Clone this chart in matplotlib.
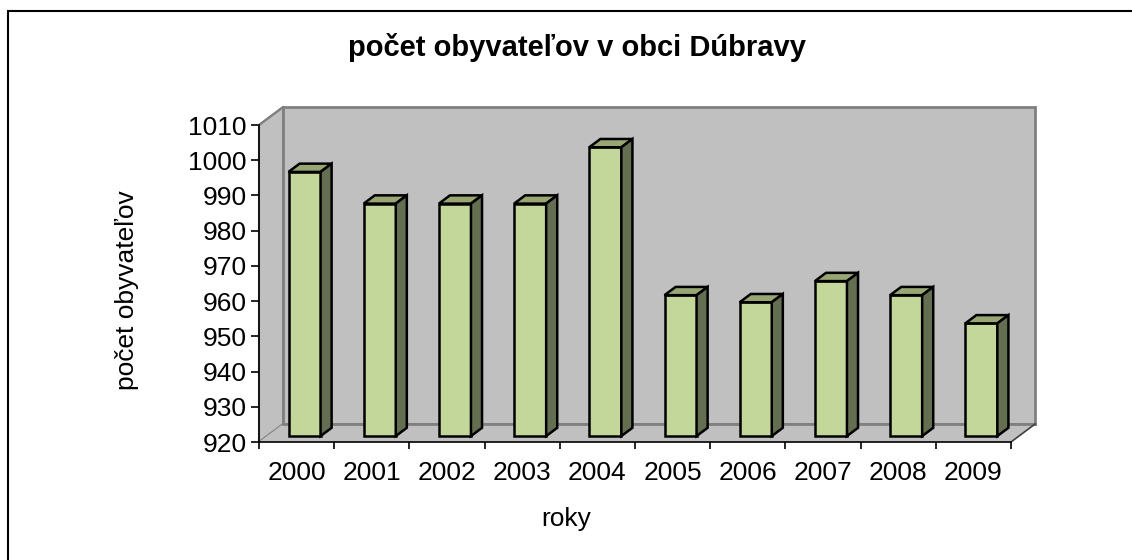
import matplotlib
matplotlib.use('Agg')
import matplotlib.pyplot as plt
from matplotlib.patches import Polygon, Rectangle

plt.rcParams['font.family'] = ['Liberation Sans', 'DejaVu Sans']

# data
roky = ['2000', '2001', '2002', '2003', '2004', '2005', '2006', '2007', '2008', '2009']
obyvatelia = [995, 986, 986, 986, 1002, 960, 958, 964, 960, 952]
y_ticks = [920, 930, 940, 950, 960, 970, 980, 990, 1000, 1010]

# 3D look (depth of the box in data units)
DX = 0.32
DY = 5.1
F0 = 0.33    # front of bars in depth
DD = 0.46    # bar depth
SIRKA = 0.426
YMIN, YMAX = 920, 1010

fig = plt.figure(figsize=(11.32, 5.6), dpi=100)
ax = fig.add_axes([259 / 1132, 1 - 442 / 560, 752 / 1132, 317 / 560])
ax.set_xlim(-0.5, len(roky) - 0.5)
ax.set_ylim(YMIN, YMAX)
ax.patch.set_visible(False)

x0, x1 = -0.5, len(roky) - 0.5
stena = '#C0C0C0'
hrana = '#808080'

# back wall
ax.add_patch(Polygon([(x0 + DX, YMIN + DY), (x1 + DX, YMIN + DY), (x1 + DX, YMAX + DY), (x0 + DX, YMAX + DY)],
                     closed=True, facecolor=stena, edgecolor=hrana, lw=2, clip_on=False, zorder=1))
# left wall
ax.add_patch(Polygon([(x0, YMIN), (x0, YMAX), (x0 + DX, YMAX + DY), (x0 + DX, YMIN + DY)],
                     closed=True, facecolor=stena, edgecolor=hrana, lw=1.5, clip_on=False, zorder=1))
# floor
ax.add_patch(Polygon([(x0, YMIN), (x1, YMIN), (x1 + DX, YMIN + DY), (x0 + DX, YMIN + DY)],
                     closed=True, facecolor=stena, edgecolor='none', clip_on=False, zorder=1))
ax.plot([x0 + DX, x1 + DX], [YMIN + DY, YMIN + DY], color=hrana, lw=2, clip_on=False, zorder=2)
ax.plot([x1, x1 + DX], [YMIN, YMIN + DY], color='#404040', lw=1.2, clip_on=False, zorder=2)
ax.plot([x0, x0 + DX], [YMAX, YMAX + DY], color=hrana, lw=1.5, clip_on=False, zorder=2)

# bars
pozicie = [i + F0 * DX for i in range(len(roky))]
vysky = [v - YMIN for v in obyvatelia]
stlpce = ax.bar(pozicie, vysky, bottom=YMIN + F0 * DY, width=SIRKA, color='#C4D79B',
                edgecolor='black', lw=1.8, zorder=5, clip_on=False)
for b in stlpce:
    xl = b.get_x()
    xr = xl + b.get_width()
    yb = b.get_y()
    yt = yb + b.get_height()
    ax.add_patch(Polygon([(xl, yt), (xr, yt), (xr + DD * DX, yt + DD * DY), (xl + DD * DX, yt + DD * DY)],
                         closed=True, facecolor='#98A673', edgecolor='black', lw=1.8, zorder=5,
                         clip_on=False, joinstyle='miter'))
    ax.add_patch(Polygon([(xr, yb), (xr, yt), (xr + DD * DX, yt + DD * DY), (xr + DD * DX, yb + DD * DY)],
                         closed=True, facecolor='#646E50', edgecolor='black', lw=1.8, zorder=5,
                         clip_on=False, joinstyle='miter'))

# axes
for s in ['top', 'right']:
    ax.spines[s].set_visible(False)
ax.spines['left'].set_color('black')
ax.spines['bottom'].set_color('black')
ax.spines['left'].set_linewidth(1.2)
ax.spines['bottom'].set_linewidth(1.2)
ax.spines['left'].set_zorder(3)
ax.spines['bottom'].set_zorder(3)

ax.set_yticks(y_ticks)
ax.set_yticklabels([str(t) for t in y_ticks])
ax.tick_params(axis='y', direction='out', length=6, width=1.2, pad=3, labelsize=19, colors='black')

ax.set_xticks([i - 0.5 for i in range(len(roky) + 1)])
ax.set_xticklabels([])
ax.set_xticks(range(len(roky)), minor=True)
ax.set_xticklabels(roky, minor=True)
ax.tick_params(axis='x', which='major', direction='out', length=5, width=1.2)
ax.tick_params(axis='x', which='minor', length=0, pad=14, labelsize=19)

fig.text(577 / 1132, 1 - 47 / 560, 'počet obyvateľov v obci Dúbravy', ha='center', va='center',
         fontsize=21, fontweight='bold')
fig.text(127 / 1132, 1 - 290 / 560, 'počet obyvateľov', ha='center', va='center', rotation=90,
         fontsize=19)
fig.text(566 / 1132, 1 - 519 / 560, 'roky', ha='center', va='center', fontsize=19)

# outer border
fig.add_artist(Rectangle((8 / 1132, -0.1), 1.2, 1.1 - 11 / 560, transform=fig.transFigure,
                         fill=False, edgecolor='black', lw=1.5))

fig.savefig('out.png', dpi=100)
